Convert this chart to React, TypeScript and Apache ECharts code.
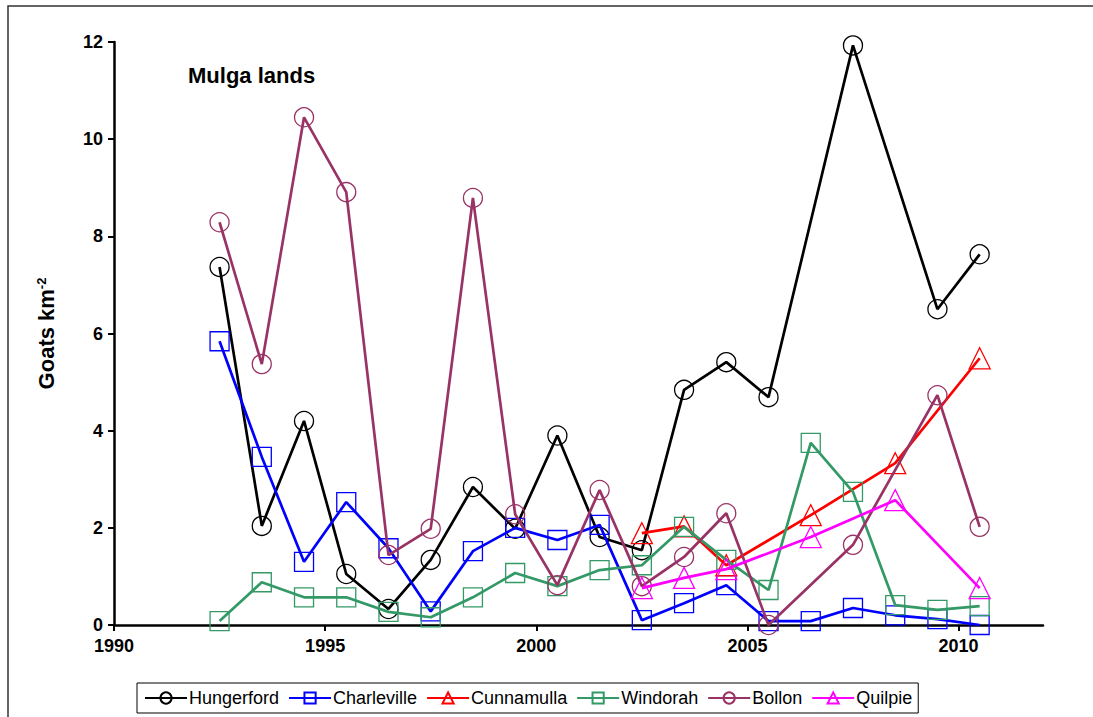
import React, { useEffect, useRef } from "react";
import * as echarts from "echarts";

const years = [1992.5, 1993.5, 1994.5, 1995.5, 1996.5, 1997.5, 1998.5, 1999.5, 2000.5, 2001.5, 2002.5, 2003.5, 2004.5, 2005.5, 2006.5, 2007.5, 2008.5, 2009.5, 2010.5];

const hungerford = [7.37, 2.04, 4.2, 1.05, 0.33, 1.34, 2.84, 1.98, 3.9, 1.81, 1.54, 4.84, 5.41, 4.69, null, 11.93, null, 6.5, 7.63];
const charleville = [5.84, 3.46, 1.3, 2.53, 1.58, 0.28, 1.52, 2.0, 1.75, 2.06, 0.1, 0.45, 0.82, 0.08, 0.08, 0.35, 0.2, 0.12, 0.0];
const cunnamulla = [null, null, null, null, null, null, null, null, null, null, 1.89, 2.03, 1.23, null, 2.26, null, 3.33, null, 5.49];
const windorah = [0.08, 0.88, 0.57, 0.57, 0.27, 0.16, 0.57, 1.07, 0.8, 1.13, 1.23, 2.02, 1.34, 0.72, 3.75, 2.74, 0.41, 0.31, 0.39];
const bollon = [8.29, 5.37, 10.45, 8.91, 1.44, 1.98, 8.79, 2.28, 0.82, 2.78, 0.8, 1.4, 2.3, 0.0, null, 1.65, null, 4.73, 2.02];
const quilpie = [null, null, null, null, null, null, null, null, null, null, 0.76, 0.97, 1.15, null, 1.81, null, 2.57, null, 0.76];

const seriesNames = ["Hungerford", "Charleville", "Cunnamulla", "Windorah", "Bollon", "Quilpie"];
const seriesValues = [hungerford, charleville, cunnamulla, windorah, bollon, quilpie];
const seriesColors = ["#000000", "#0000ff", "#ff0000", "#339966", "#993366", "#ff00ff"];
const seriesSymbols = ["circle", "rect", "triangle", "rect", "circle", "triangle"];

const FONT = "'Liberation Sans', Arial, sans-serif";

export default function App() {
  const ref = useRef<HTMLDivElement>(null);
  useEffect(() => {
    if (!ref.current) return;
    const chart = echarts.init(ref.current, null, { renderer: "svg" });
    const series = seriesNames.map((name, i) => ({
      name,
      type: "line",
      data: years
        .map((x, j) => [x, seriesValues[i][j]])
        .filter((p) => p[1] !== null),
      symbol: seriesSymbols[i],
      symbolSize: seriesSymbols[i] === "triangle" ? 21 : 19,
      showAllSymbol: true,
      lineStyle: { color: seriesColors[i], width: 2.7 },
      itemStyle: { color: "rgba(255,255,255,0)", borderColor: seriesColors[i], borderWidth: 1.3 },
      emphasis: { disabled: true },
      z: 2 + i,
    }));
    chart.setOption({
      animation: false,
      backgroundColor: "#ffffff",
      textStyle: { fontFamily: FONT },
      grid: { left: 114, top: 42, right: 1093 - 1043, bottom: 717 - 625, containLabel: false },
      title: {
        text: "Mulga lands",
        left: 183,
        top: 59,
        textStyle: { fontFamily: FONT, fontWeight: "bold", fontSize: 22, color: "#000" },
      },
      legend: {
        left: 137,
        top: 683,
        width: 850,
        padding: [6, 6, 6, 7],
        itemGap: 9,
        itemWidth: 42,
        itemHeight: 14,
        borderColor: "#000",
        borderWidth: 1,
        backgroundColor: "#fff",
        textStyle: { fontFamily: FONT, fontSize: 18, color: "#000", padding: [0, 0, 0, -3] },
        data: seriesNames,
      },
      xAxis: {
        type: "value",
        min: 1990,
        max: 2012,
        interval: 5,
        axisLine: { show: true, lineStyle: { color: "#000", width: 2.5 } },
        axisTick: { show: true, length: 6, lineStyle: { color: "#000", width: 2 } },
        splitLine: { show: false },
        axisLabel: {
          showMaxLabel: false,
          margin: 12,
          fontFamily: FONT,
          fontWeight: "bold",
          fontSize: 18,
          color: "#000",
          formatter: (v: number) => String(v),
        },
      },
      yAxis: {
        type: "value",
        min: 0,
        max: 12,
        interval: 2,
        axisLine: { show: true, lineStyle: { color: "#000", width: 2.5 } },
        axisTick: { show: true, length: 6, lineStyle: { color: "#000", width: 2 } },
        splitLine: { show: false },
        axisLabel: { margin: 11, fontFamily: FONT, fontWeight: "bold", fontSize: 18, color: "#000" },
        name: "{a|Goats km}{s|-2}",
        nameLocation: "middle",
        nameGap: 57,
        nameTextStyle: {
          rich: {
            a: { fontFamily: FONT, fontWeight: "bold", fontSize: 22, color: "#000" },
            s: { fontFamily: FONT, fontWeight: "bold", fontSize: 13, color: "#000", verticalAlign: "top", padding: [0, 0, 9, 0] },
          },
        },
      },
      graphic: [
        {
          type: "polyline",
          shape: { points: [[8, 800], [8, 6], [1200, 6]] },
          style: { fill: "none", stroke: "#333", lineWidth: 1.5 },
          silent: true,
          z: -1,
        },
      ],
      series,
    });
    return () => chart.dispose();
  }, []);
  return <div ref={ref} style={{ position: "fixed", left: 0, top: 0, width: 1093, height: 717 }} />;
}
